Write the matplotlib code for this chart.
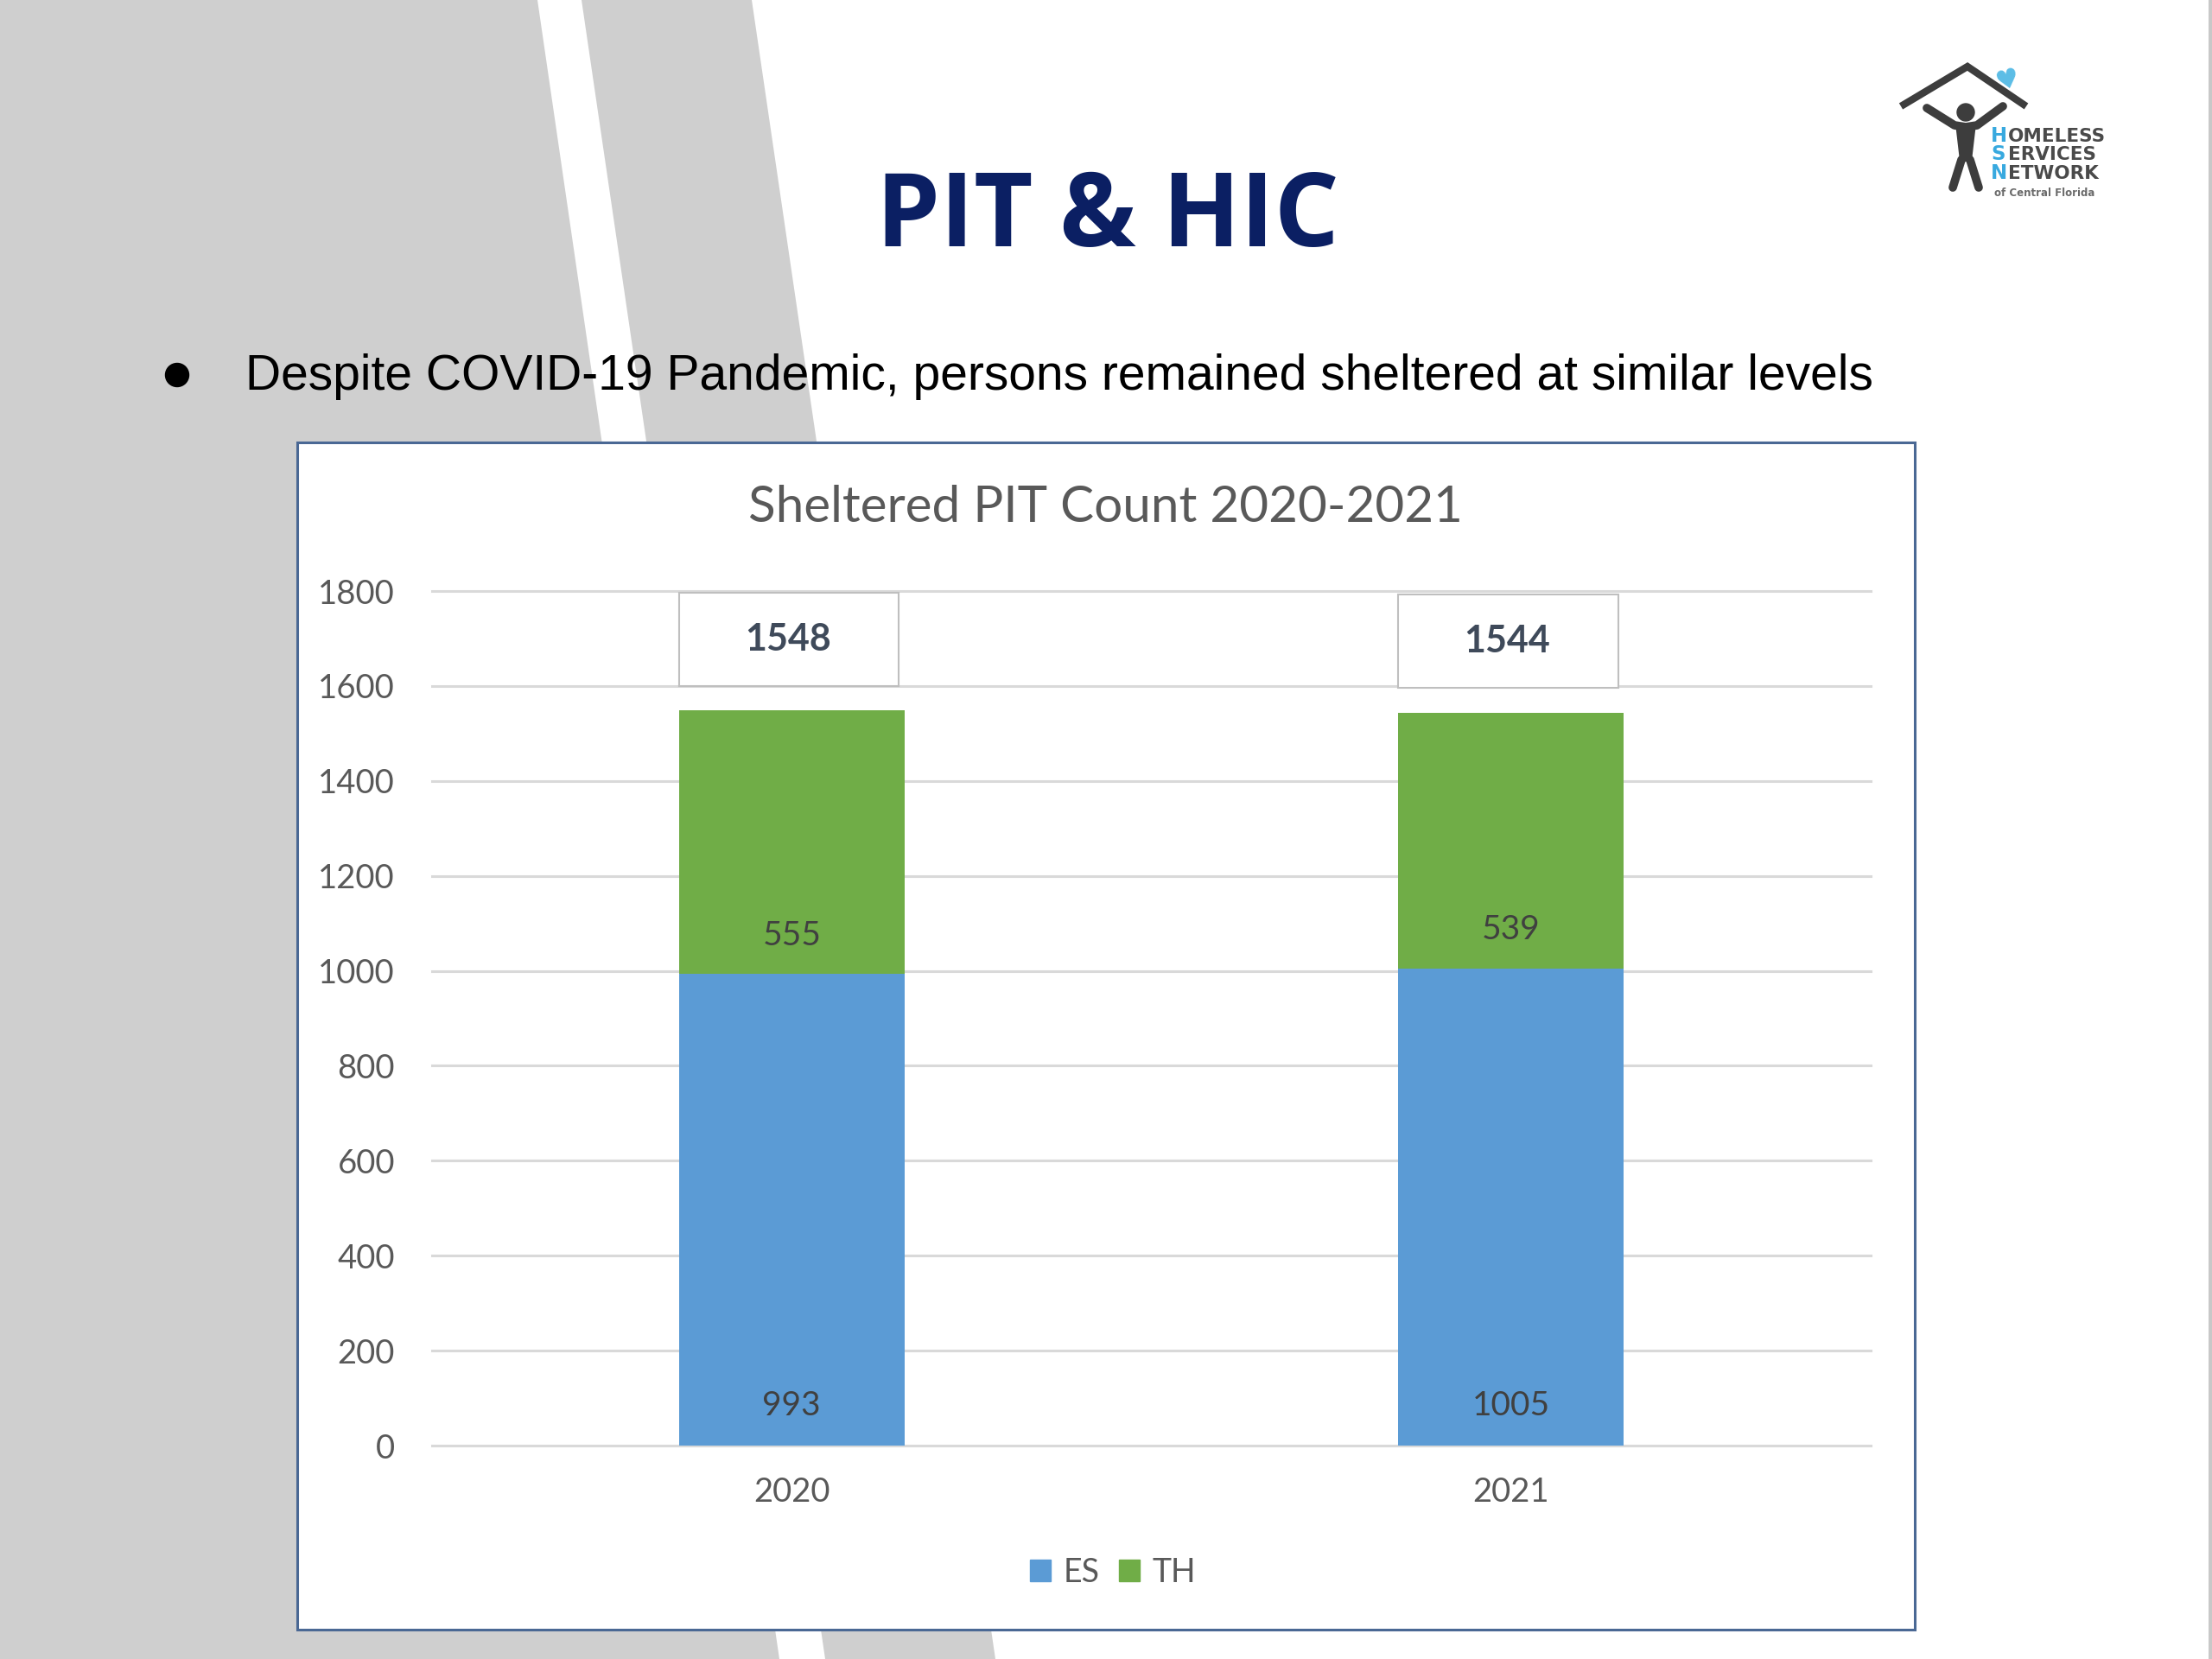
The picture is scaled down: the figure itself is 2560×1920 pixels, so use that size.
import matplotlib
matplotlib.use('Agg')
import matplotlib.pyplot as plt
from matplotlib.patches import Rectangle, Polygon, Circle, Patch

# data
years = ['2020', '2021']
es = [993, 1005]
th = [555, 539]
totals = [1548, 1544]
yticks = [0, 200, 400, 600, 800, 1000, 1200, 1400, 1600, 1800]

c_es = '#5b9bd5'
c_th = '#70ad47'
c_txt = '#595959'

W, H = 2560, 1920
fig = plt.figure(figsize=(W / 100, H / 100), dpi=100)

# slide background, drawn in pixel coords
bg = fig.add_axes([0, 0, 1, 1])
bg.set_xlim(0, W)
bg.set_ylim(H, 0)
bg.axis('off')
bg.add_patch(Polygon([(0, 0), (622, 0), (902, H), (0, H)], color='#cfcfcf', lw=0))
bg.add_patch(Polygon([(673, 0), (870, 0), (1152, H), (955, H)], color='#cfcfcf', lw=0))
bg.add_patch(Rectangle((2556, 0), 4, H, color='#c8c8c8', lw=0))

# title + bullet
bg.text(1282, 285, 'PIT & HIC', family='Open Sans', weight='bold', fontsize=85,
        color='#0b1f63', ha='center', va='baseline')
bg.add_patch(Circle((205, 434), 13.5, color='black'))
bg.text(284, 451, 'Despite COVID-19 Pandemic, persons remained sheltered at similar levels',
        family='Liberation Sans', fontsize=41, color='black', ha='left', va='baseline')

# logo (rough)
grey = '#3d3d3d'
bg.plot([2200, 2277, 2345], [123, 77, 123], color=grey, lw=6, solid_capstyle='butt',
        solid_joinstyle='miter')
bg.add_patch(Circle((2275, 130), 10, color=grey))
bg.plot([2230, 2262, 2275, 2288, 2318], [125, 145, 147, 145, 123], color=grey, lw=7,
        solid_capstyle='round', solid_joinstyle='round')
bg.add_patch(Polygon([(2263, 143), (2287, 143), (2282, 186), (2268, 186)], color=grey, lw=0))
bg.plot([2260, 2270, 2275, 2280, 2290], [217, 185, 180, 185, 217], color=grey, lw=7,
        solid_capstyle='round', solid_joinstyle='round')
bg.text(2323, 93, '\u2665', family='DejaVu Sans', fontsize=22, color='#5bbde6',
        ha='center', va='center', rotation=15)
for word, y in zip(['HOMELESS', 'SERVICES', 'NETWORK'], [164, 185, 207]):
    bg.text(2304, y, word[0], family='DejaVu Sans', weight='bold', fontsize=16.5,
            color='#38a9df', ha='left', va='baseline')
    bg.text(2324, y, word[1:], family='DejaVu Sans', weight='bold', fontsize=15.5,
            color='#4a4a4a', ha='left', va='baseline')
bg.text(2308, 227, 'of Central Florida', family='DejaVu Sans', weight='bold',
        fontsize=8.5, color='#6a6a6a', ha='left', va='baseline')

# chart frame
bg.add_patch(Rectangle((344, 512), 2216 - 344, 1886 - 512, facecolor='white',
                       edgecolor='#4a6894', lw=2.2))
bg.text(1279, 588, 'Sheltered PIT Count 2020-2021', family='Lato', fontsize=42,
        color=c_txt, ha='center', va='center')

# plot area
ax = fig.add_axes([500 / W, (H - 1673) / H, 1665 / W, (1673 - 684) / H])
ax.set_facecolor('none')
x = list(range(len(years)))
bw = 0.314
ax.bar(x, es, width=bw, color=c_es, zorder=2)
ax.bar(x, th, width=bw, bottom=es, color=c_th, zorder=2)

ax.set_xlim(-0.5, 1.5)
ax.set_ylim(0, 1800)
ax.set_yticks(yticks)
ax.set_xticks(x)
ax.set_xticklabels(years)
ax.grid(axis='y', color='#d9d9d9', lw=2.2)
ax.set_axisbelow(True)
for gl in ax.get_ygridlines():
    gl.set_clip_on(False)
for s in ax.spines.values():
    s.set_visible(False)
ax.tick_params(axis='both', length=0, labelsize=27.5, labelcolor=c_txt)
ax.tick_params(axis='y', pad=31)
ax.tick_params(axis='x', pad=26)
for lab in ax.get_xticklabels() + ax.get_yticklabels():
    lab.set_family('Lato')

# data labels (inside base)
for i in x:
    ax.annotate(str(es[i]), (i, 0), xytext=(0, 33), textcoords='offset points',
                ha='center', va='center', fontsize=28, family='Lato', color='#404040')
    ax.annotate(str(th[i]), (i, es[i]), xytext=(0, 32), textcoords='offset points',
                ha='center', va='center', fontsize=28, family='Lato', color='#404040')
    # total boxes
    ax.add_patch(Rectangle((i - 0.157, totals[i] + 52), 0.306, 197, facecolor='white',
                           edgecolor='#bfbfbf', lw=1.5, clip_on=False, zorder=3))
    ax.text(i - 0.005, totals[i] + 150, str(totals[i]), ha='center', va='center',
            fontsize=31, family='Lato', weight='bold', color='#3f4a5a', zorder=4)

ax.legend(handles=[Patch(color=c_es, label='ES'), Patch(color=c_th, label='TH')],
          loc='center', bbox_to_anchor=(1288 / W, 1 - 1820 / H),
          bbox_transform=fig.transFigure, ncol=2, frameon=False,
          prop={'family': 'Lato', 'size': 27}, labelcolor=c_txt,
          handlelength=0.64, handleheight=0.64, handletextpad=0.4, columnspacing=0.6)

fig.savefig('out.png', dpi=100)
